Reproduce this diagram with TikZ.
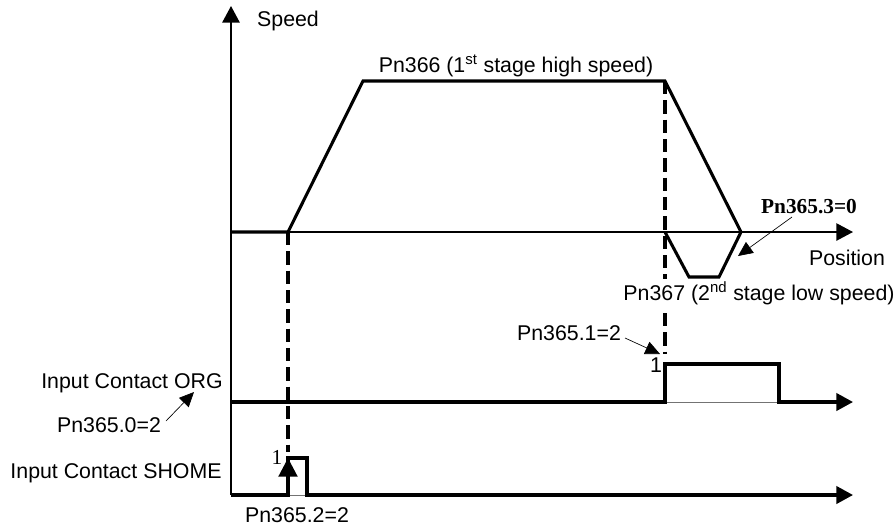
\documentclass[tikz,border=0pt]{standalone}
\usepackage{fontspec}
\setmainfont{Liberation Sans}
\newfontfamily\serifnum{Liberation Serif}
\usetikzlibrary{arrows.meta,positioning}

\begin{document}
\begin{tikzpicture}[
  x=0.75pt, y=-0.75pt,
  font=\fontsize{16}{19}\selectfont,
  lab/.style={inner sep=0pt},
  vax/.style={line width=1.5pt, -{Triangle[length=12.5pt,width=13pt]}},
  pax/.style={line width=1.1pt, -{Triangle[length=12.5pt,width=13pt]}},
  prof/.style={line width=2.3pt, line join=miter},
  sig/.style={line width=2.3pt, -{Triangle[length=12.5pt,width=13pt]}},
  under/.style={line width=0.6pt, black!55},
  dsh/.style={line width=2.4pt, dash pattern=on 10pt off 4.5pt},
  upar/.style={line width=2.3pt, -{Triangle[length=14pt,width=14pt]}},
  ptr/.style={line width=0.5pt, -{Triangle[length=11pt,width=10pt]}}
]
\useasboundingbox (0,0) rectangle (895,526);
% ----- axes -----
\coordinate (o)    at (231,495);
\coordinate (vtop) at (231,6);
\coordinate (p0)   at (231,232);
\coordinate (pend) at (853,232);
\draw[vax] (o) -- (vtop);
\draw[pax] (p0) -- (pend);
\node[lab] (speed) at (288,21)  {Speed};
\node[lab] (pos)   at (847,258) {Position};
% ----- dashed markers -----
\coordinate (d1) at (288,452);
\coordinate (d2) at (665,354);
\coordinate (s1) at (288,232);
\coordinate (s3) at (665,81);
\draw[dsh] (s1) -- (d1);
\draw[dsh] (s3) -- (d2);
% ----- speed profile -----
\coordinate (s2) at (363,81);
\coordinate (s4) at (741,232);
\coordinate (l1) at (665,232);
\coordinate (l2) at (689,277);
\coordinate (l3) at (719,277);
\draw[prof] (p0) -- (s1) -- (s2) -- (s3) -- (s4);
\draw[prof] (l1) -- (l2) -- (l3) -- (s4);
\node[lab] (hi) at (516,66)  {Pn366 (1\textsuperscript{st} stage high speed)};
\node[lab, fill=white, inner sep=2pt] (lo) at (759,293) {Pn367 (2\textsuperscript{nd} stage low speed)};
\node[lab, font=\fontsize{16}{19}\serifnum\bfseries] (pn3) at (809,207) {Pn365.3=0};
\coordinate (f3) at (792,217);
\coordinate (t3) at (738,256);
\draw[ptr] (f3) -- (t3);
% ----- input contact ORG -----
\coordinate (g0)   at (231,402);
\coordinate (g1)   at (665,402);
\coordinate (g2)   at (665,364);
\coordinate (g3)   at (779,364);
\coordinate (g4)   at (779,402);
\coordinate (gend) at (853,402);
\draw[under] (g1) -- (g4);
\draw[sig] (g0) -- (g1) -- (g2) -- (g3) -- (g4) -- (gend);
\node[lab] (org) at (132,383) {Input Contact ORG};
\node[lab] (pn0) at (109,425) {Pn365.0=2};
\coordinate (f0) at (166,421);
\coordinate (t0) at (194,392);
\draw[ptr] (f0) -- (t0);
\node[lab] (pn1) at (569,333) {Pn365.1=2};
\coordinate (f1) at (625,338);
\coordinate (t1) at (660,354);
\draw[ptr] (f1) -- (t1);
\node[lab] (one1) at (656,365) {1};
% ----- input contact SHOME -----
\coordinate (h1)   at (288,495);
\coordinate (h2)   at (288,458);
\coordinate (h3)   at (307,458);
\coordinate (h4)   at (307,495);
\coordinate (hend) at (853,495);
\draw[under] (h1) -- (h4);
\draw[sig] (o) -- (h1) -- (h2) -- (h3) -- (h4) -- (hend);
\draw[upar] (h1) -- (h2);
\node[lab] (shome) at (116,473) {Input Contact SHOME};
\node[lab] (pn2) at (297,515) {Pn365.2=2};
\node[lab, font=\fontsize{16}{19}\serifnum] (one2) at (277,457) {1};
\end{tikzpicture}
\end{document}
